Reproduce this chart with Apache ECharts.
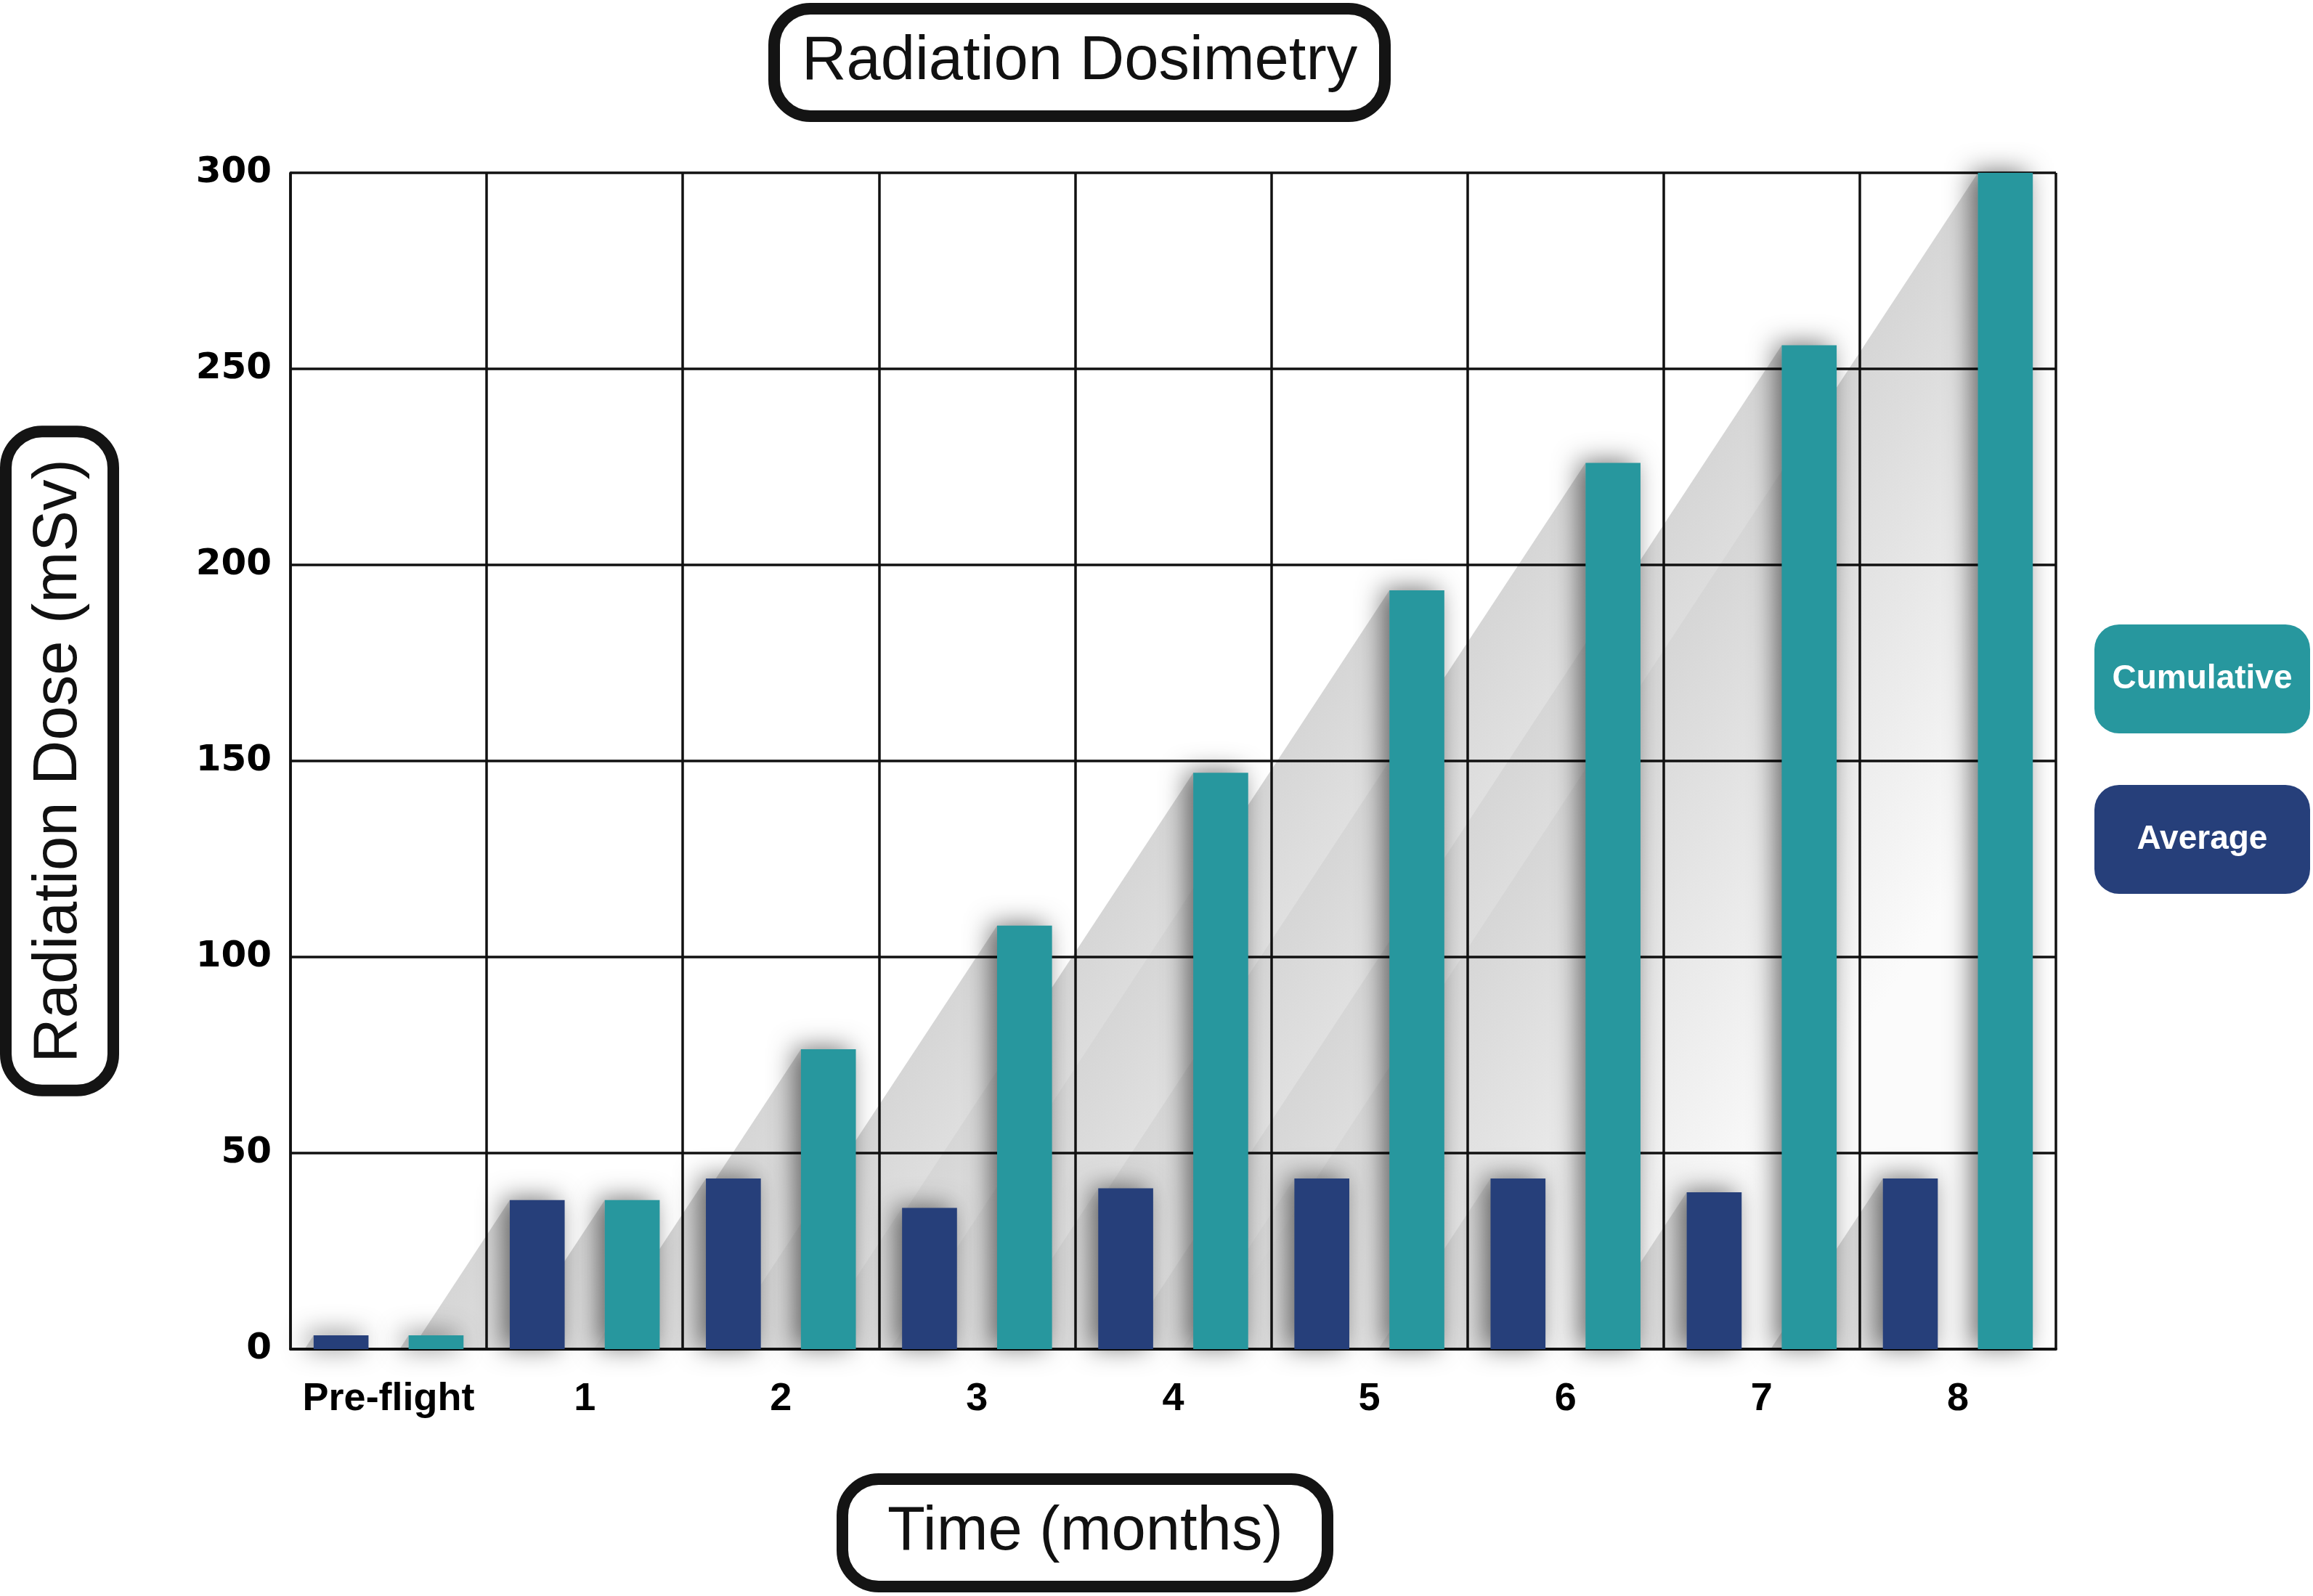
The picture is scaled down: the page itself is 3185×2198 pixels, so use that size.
<!DOCTYPE html>
<html>
<head>
<meta charset="utf-8">
<script src="https://cdn.jsdelivr.net/npm/echarts@6/dist/echarts.min.js"></script>
<style>
html,body{margin:0;padding:0;background:#fff;}
#chart{width:3185px;height:2198px;}
</style>
</head>
<body>
<div id="chart"></div>
<script>
const categories = ['Pre-flight', '1', '2', '3', '4', '5', '6', '7', '8'];
const average = [3.5, 38, 43.5, 36, 41, 43.5, 43.5, 40, 43.5];
const cumulative = [3.5, 38, 76.5, 108, 147, 193.5, 226, 256, 300];
const yTicks = { min: 0, max: 300, interval: 50 };

const NAVY = '#263f7a';
const TEAL = '#27979e';
const BAR_W = 0.28;   // fraction of category band
const BAR_GAP = 0.73; // fraction of bar width
const SLOPE = 1.52;   // cast shadow slope (px down per px left)

const shadowData = [];
categories.forEach((c, i) => {
  shadowData.push([i, average[i], 0]);
  shadowData.push([i, cumulative[i], 1]);
});

function renderShadow(params, api) {
  const idx = api.value(0);
  const val = api.value(1);
  const s = api.value(2);
  const band = api.size([1, 0])[0];
  const base = api.coord([idx, 0]);
  const top = api.coord([idx, val])[1];
  const bw = band * BAR_W;
  const gap = bw * BAR_GAP;
  const total = 2 * bw + gap;
  const L = base[0] - total / 2 + s * (bw + gap);
  const B = base[1];
  const H = B - top;
  const dx = H / SLOPE;
  const nx = 0.835, ny = 0.55, D = 520;
  const c = top + L * SLOPE;
  return {
    type: 'polygon',
    z2: Math.round(c),
    shape: { points: [[L, top], [L - dx, B], [L, B]] },
    style: {
      fill: new echarts.graphic.LinearGradient(L, top, L + D * nx, top + D * ny, [
        { offset: 0, color: '#d6d6d6' },
        { offset: 0.5, color: '#e9e9e9' },
        { offset: 1, color: '#fbfbfb' }
      ], true)
    },
    silent: true
  };
}

const boxText = {
  fontFamily: 'Liberation Sans, Arial, sans-serif',
  fontSize: 85,
  fontWeight: 'normal',
  color: '#111',
  lineHeight: 96
};

const chart = echarts.init(document.getElementById('chart'), null, { renderer: 'canvas' });
const option = {
  backgroundColor: '#ffffff',
  animation: false,
  title: [
    {
      text: 'Radiation Dosimetry',
      left: 1066, top: 12,
      padding: [26, 38],
      borderColor: '#141414', borderWidth: 16, borderRadius: 50,
      textStyle: boxText
    },
    {
      text: 'Time (months)',
      left: 1160, top: 2037,
      padding: [26, 62],
      borderColor: '#141414', borderWidth: 16, borderRadius: 50,
      textStyle: boxText
    }
  ],
  legend: {
    orient: 'vertical',
    left: 2879, top: 860,
    itemGap: 71,
    itemWidth: 0, itemHeight: 0,
    padding: 0,
    selectedMode: false,
    data: ['Cumulative', 'Average'],
    formatter: n => n === 'Cumulative' ? '{c|Cumulative}' : '{a|Average}',
    textStyle: {
      rich: {
        c: { width: 297, height: 150, lineHeight: 150, align: 'center', backgroundColor: TEAL, borderRadius: 34,
             color: '#fff', fontSize: 46, fontWeight: 'bold', fontFamily: 'Liberation Sans, Arial, sans-serif' },
        a: { width: 297, height: 150, lineHeight: 150, align: 'center', backgroundColor: NAVY, borderRadius: 34,
             color: '#fff', fontSize: 46, fontWeight: 'bold', fontFamily: 'Liberation Sans, Arial, sans-serif' }
      }
    }
  },
  grid: { left: 400, right: 354, top: 238, bottom: 340, containLabel: false, outerBoundsMode: 'none' },
  xAxis: {
    type: 'category',
    data: categories,
    boundaryGap: true,
    axisLine: { show: true, lineStyle: { color: '#111', width: 4 } },
    axisTick: { show: false, interval: 0 },
    splitLine: { show: true, interval: 0, lineStyle: { color: '#111', width: 3.5 } },
    axisLabel: {
      interval: 0,
      margin: 42,
      color: '#000',
      fontFamily: 'Liberation Sans, Arial, sans-serif',
      fontWeight: 'bold',
      fontSize: 54
    }
  },
  yAxis: {
    type: 'value',
    min: yTicks.min, max: yTicks.max, interval: yTicks.interval,
    name: 'Radiation Dose (mSv)',
    nameLocation: 'middle',
    nameRotate: 90,
    nameGap: 244,
    nameTextStyle: Object.assign({}, boxText, {
      padding: [26, 38],
      borderColor: '#141414', borderWidth: 16, borderRadius: 50
    }),
    axisLine: { show: true, lineStyle: { color: '#111', width: 3.5 } },
    axisTick: { show: false },
    splitLine: { show: true, lineStyle: { color: '#111', width: 3.5 } },
    axisLabel: {
      margin: 26,
      color: '#000',
      fontFamily: 'DejaVu Sans, sans-serif',
      fontWeight: 'bold',
      fontSize: 50
    }
  },
  series: [
    {
      type: 'custom',
      name: 'shadow',
      silent: true,
      z: -1,
      renderItem: renderShadow,
      data: shadowData
    },
    {
      type: 'bar',
      name: 'Average',
      data: average,
      barWidth: (BAR_W * 100) + '%',
      barGap: (BAR_GAP * 100) + '%',
      itemStyle: { color: NAVY, shadowBlur: 34, shadowColor: 'rgba(0,0,0,0.55)', shadowOffsetX: -9, shadowOffsetY: -2 }
    },
    {
      type: 'bar',
      name: 'Cumulative',
      data: cumulative,
      barWidth: (BAR_W * 100) + '%',
      barGap: (BAR_GAP * 100) + '%',
      itemStyle: { color: TEAL, shadowBlur: 34, shadowColor: 'rgba(0,0,0,0.55)', shadowOffsetX: -9, shadowOffsetY: -2 }
    }
  ]
};
chart.setOption(option);
</script>
</body>
</html>
